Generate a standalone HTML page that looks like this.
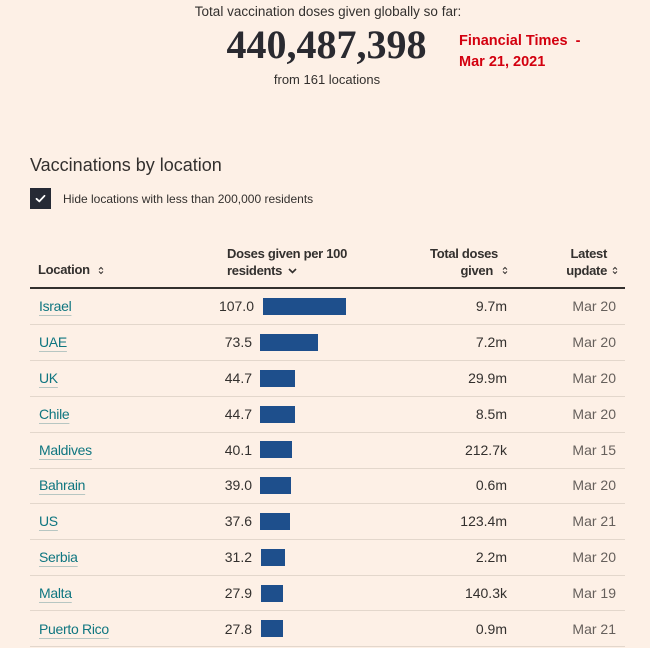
<!DOCTYPE html>
<html><head><meta charset="utf-8">
<style>
html,body{margin:0;padding:0;}
body{width:650px;height:648px;background:#fdf0e6;position:relative;overflow:hidden;font-family:"Liberation Sans",sans-serif;color:#33302e;}
.a{position:absolute;white-space:nowrap;}
.title{left:0;width:656px;text-align:center;top:2px;line-height:20px;font-size:13.5px;color:#33302e;}
.big{left:0;width:653px;text-align:center;top:25px;line-height:40px;font-family:"Liberation Serif",serif;font-weight:bold;font-size:40px;color:#2a2a30;}
.from{left:0;width:654px;text-align:center;top:70px;line-height:20px;font-size:13px;}
.red{left:459px;font-weight:bold;font-size:14.5px;color:#d3000f;line-height:20px;}
.h2{left:30px;top:154px;line-height:22px;font-size:18px;color:#33302e;}
.cb{left:30px;top:188px;width:21px;height:21px;background:#262a35;}
.cbt{left:63px;top:190px;line-height:18px;font-size:12px;}
.hd{font-weight:bold;font-size:13px;letter-spacing:-0.3px;line-height:17px;color:#33302e;}
.hline{left:30px;top:287px;width:595px;height:2px;background:#33302e;}
.rl{left:30px;width:595px;height:1px;background:#e3d7cc;}
.loc{left:39px;font-size:14px;letter-spacing:-0.3px;color:#0f7680;line-height:20px;text-decoration:underline;text-decoration-color:#b7c6c2;text-underline-offset:4px;text-decoration-thickness:1px;}
.num{right:396px;font-size:14px;line-height:20px;text-align:right;}
.bar{left:260px;height:17px;background:#1e4f8c;}
.tot{right:143px;font-size:14px;line-height:20px;text-align:right;}
.dt{right:34px;font-size:14px;line-height:20px;text-align:right;color:#66605c;}
svg{position:absolute;}
</style></head><body>
<div class="a title">Total vaccination doses given globally so far:</div>
<div class="a big">440,487,398</div>
<div class="a from">from 161 locations</div>
<div class="a red" style="top:31px;">Financial Times&nbsp; -</div>
<div class="a red" style="top:52px;">Mar 21, 2021</div>

<div class="a h2">Vaccinations by location</div>
<div class="a cb"></div>
<svg style="left:30px;top:188px" width="21" height="21"><path d="M6.5 10.8 L9.3 13.4 L14.5 7.8" stroke="#fff" stroke-width="1.8" fill="none" stroke-linecap="round" stroke-linejoin="round"/></svg>
<div class="a cbt">Hide locations with less than 200,000 residents</div>

<div class="a hd" style="left:38px;top:261px;">Location</div>
<svg style="left:98px;top:266px" width="6" height="9"><path d="M1 3.5 L3 1.5 L5 3.5 M1 5.5 L3 7.5 L5 5.5" stroke="#33302e" stroke-width="1" fill="none"/></svg>
<div class="a hd" style="left:227px;top:245px;">Doses given per 100</div>
<div class="a hd" style="left:227px;top:262px;">residents</div>
<svg style="left:287px;top:267px" width="11" height="8"><path d="M2 2 L5.5 5.5 L9 2" stroke="#33302e" stroke-width="1.6" fill="none"/></svg>
<div class="a hd" style="right:152px;top:245px;text-align:right;">Total doses</div>
<div class="a hd" style="right:157px;top:262px;text-align:right;">given</div>
<svg style="left:502px;top:266px" width="6" height="9"><path d="M1 3.5 L3 1.5 L5 3.5 M1 5.5 L3 7.5 L5 5.5" stroke="#33302e" stroke-width="1" fill="none"/></svg>
<div class="a hd" style="right:43px;top:245px;text-align:right;">Latest</div>
<div class="a hd" style="right:43px;top:262px;text-align:right;">update</div>
<svg style="left:612px;top:266px" width="6" height="9"><path d="M1 3.5 L3 1.5 L5 3.5 M1 5.5 L3 7.5 L5 5.5" stroke="#33302e" stroke-width="1" fill="none"/></svg>
<div class="a hline"></div>

<!-- rows: center c = 306.4 + i*35.8 -->
<div class="a loc" style="top:296.4px;">Israel</div>
<div class="a num" style="top:296.4px;right:396px;">107.0</div>
<div class="a bar" style="left:263px;top:298px;width:83px;"></div>
<div class="a tot" style="top:296.4px;">9.7m</div>
<div class="a dt" style="top:296.4px;">Mar 20</div>
<div class="a rl" style="top:324px;"></div>

<div class="a loc" style="top:332.2px;">UAE</div>
<div class="a num" style="top:332.2px;right:398px;">73.5</div>
<div class="a bar" style="top:334px;width:58px;"></div>
<div class="a tot" style="top:332.2px;">7.2m</div>
<div class="a dt" style="top:332.2px;">Mar 20</div>
<div class="a rl" style="top:360px;"></div>

<div class="a loc" style="top:368px;">UK</div>
<div class="a num" style="top:368px;right:398px;">44.7</div>
<div class="a bar" style="top:370px;width:35px;"></div>
<div class="a tot" style="top:368px;">29.9m</div>
<div class="a dt" style="top:368px;">Mar 20</div>
<div class="a rl" style="top:396px;"></div>

<div class="a loc" style="top:403.8px;">Chile</div>
<div class="a num" style="top:403.8px;right:398px;">44.7</div>
<div class="a bar" style="top:405.5px;width:35px;"></div>
<div class="a tot" style="top:403.8px;">8.5m</div>
<div class="a dt" style="top:403.8px;">Mar 20</div>
<div class="a rl" style="top:432px;"></div>

<div class="a loc" style="top:439.6px;">Maldives</div>
<div class="a num" style="top:439.6px;right:398px;">40.1</div>
<div class="a bar" style="top:441px;width:32px;"></div>
<div class="a tot" style="top:439.6px;">212.7k</div>
<div class="a dt" style="top:439.6px;">Mar 15</div>
<div class="a rl" style="top:468px;"></div>

<div class="a loc" style="top:475.4px;">Bahrain</div>
<div class="a num" style="top:475.4px;right:398px;">39.0</div>
<div class="a bar" style="top:477px;width:31px;"></div>
<div class="a tot" style="top:475.4px;">0.6m</div>
<div class="a dt" style="top:475.4px;">Mar 20</div>
<div class="a rl" style="top:503px;"></div>

<div class="a loc" style="top:511.2px;">US</div>
<div class="a num" style="top:511.2px;right:398px;">37.6</div>
<div class="a bar" style="top:513px;width:30px;"></div>
<div class="a tot" style="top:511.2px;">123.4m</div>
<div class="a dt" style="top:511.2px;">Mar 21</div>
<div class="a rl" style="top:539px;"></div>

<div class="a loc" style="top:547px;">Serbia</div>
<div class="a num" style="top:547px;right:398px;">31.2</div>
<div class="a bar" style="left:261px;top:548.5px;width:24px;"></div>
<div class="a tot" style="top:547px;">2.2m</div>
<div class="a dt" style="top:547px;">Mar 20</div>
<div class="a rl" style="top:575px;"></div>

<div class="a loc" style="top:582.8px;">Malta</div>
<div class="a num" style="top:582.8px;right:398px;">27.9</div>
<div class="a bar" style="left:261px;top:584.5px;width:21.5px;"></div>
<div class="a tot" style="top:582.8px;">140.3k</div>
<div class="a dt" style="top:582.8px;">Mar 19</div>
<div class="a rl" style="top:610px;"></div>

<div class="a loc" style="top:618.6px;">Puerto Rico</div>
<div class="a num" style="top:618.6px;right:398px;">27.8</div>
<div class="a bar" style="left:261px;top:620px;width:21.5px;"></div>
<div class="a tot" style="top:618.6px;">0.9m</div>
<div class="a dt" style="top:618.6px;">Mar 21</div>
<div class="a rl" style="top:646px;"></div>
</body></html>
